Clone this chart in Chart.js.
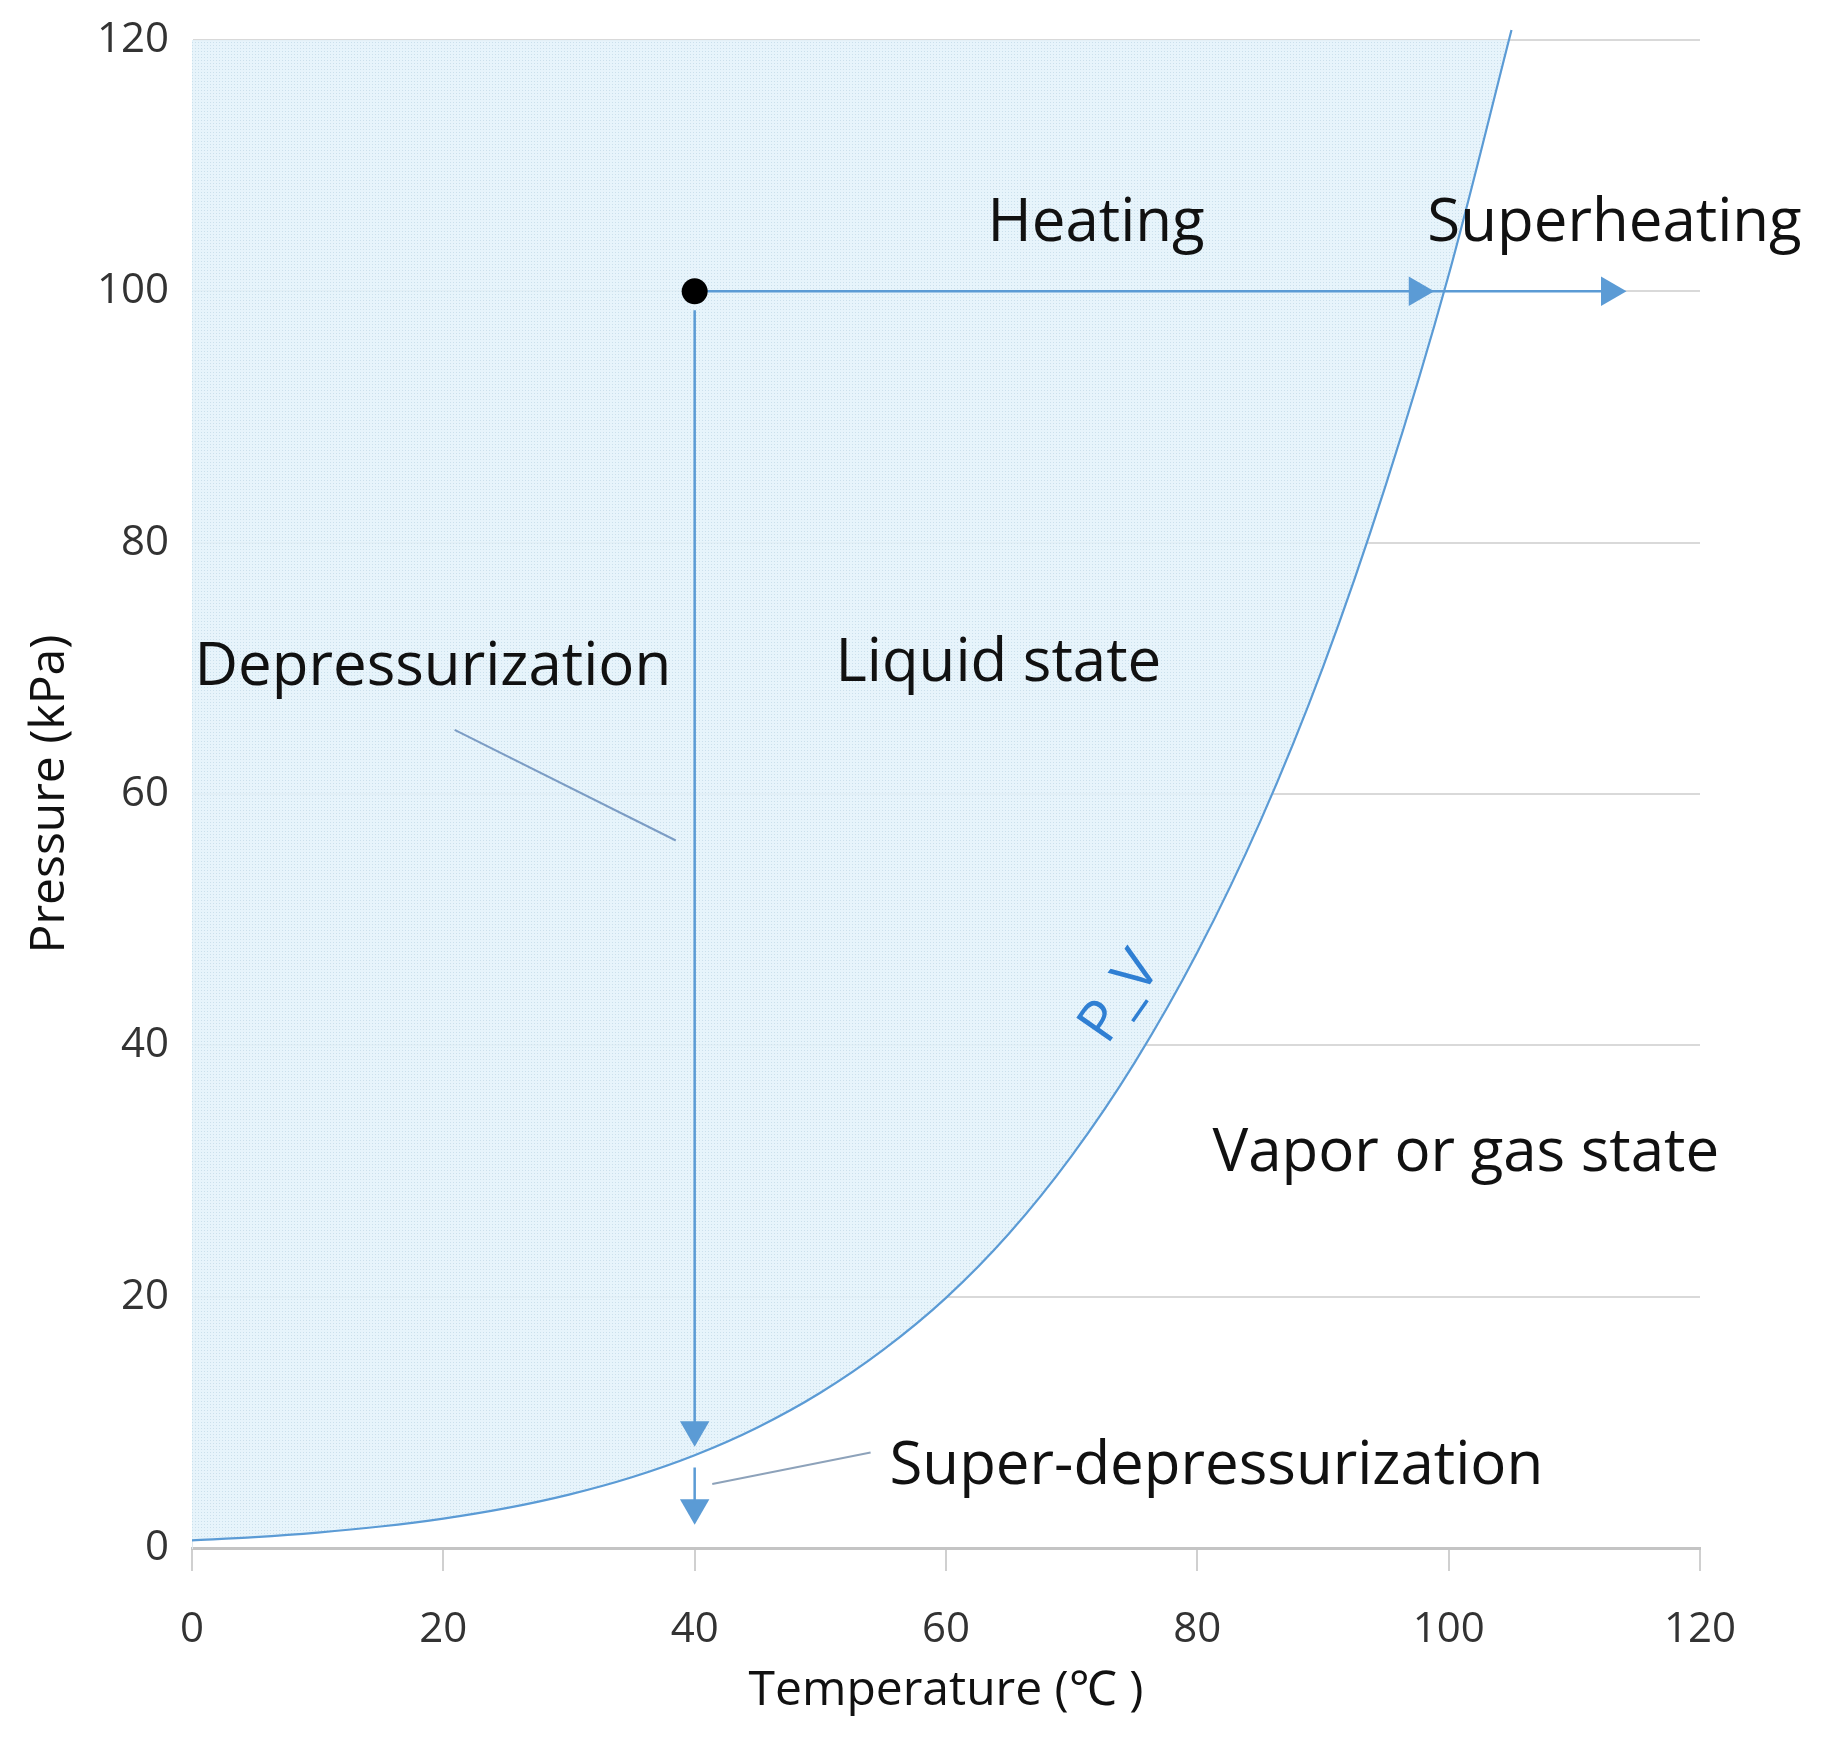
<!DOCTYPE html>
<html>
<head>
<meta charset="utf-8">
<script src="https://cdn.jsdelivr.net/npm/chart.js@4.4.1/dist/chart.umd.min.js"></script>
<style>
  html, body { margin: 0; padding: 0; background: #fff; }
  #wrap { width: 1825px; height: 1741px; }
</style>
</head>
<body>
<div id="wrap"><canvas id="pv-chart"></canvas></div>
<script>
// saturation curve P_V(T)
const tempC = [0, 5, 10, 15, 20, 25, 30, 35, 40, 45, 50, 55, 60, 65, 70, 75, 80, 85, 90, 95, 100, 105];
const pressKPa = [0.61, 0.87, 1.23, 1.71, 2.34, 3.17, 4.25, 5.63, 7.38, 9.59, 12.35, 15.76, 19.9, 25.0, 31.2, 38.6, 47.4, 57.8, 70.1, 84.6, 101.3, 120.8];

const xTickValues = [0, 20, 40, 60, 80, 100, 120];
const yTickValues = [0, 20, 40, 60, 80, 100, 120];

// starting state and process paths (°C, kPa)
const startState = [[40, 100]];
const heatPath = [[40, 100], [112.5, 100]];
const heatHeads = [[97.5, 100], [112.8, 100]];
const depressPath = [[40, 98.5], [40, 9.6]];
const superDepressPath = [[40, 6.4], [40, 3.2]];
const downHeads = [[40, 9.4], [40, 3.2]];
const depressLeader = [[20.9, 65.1], [38.5, 56.3]];
const superLeader = [[54.0, 7.6], [41.4, 5.1]];

// region labels (left edge, baseline)
const labelText = ["Heating", "Superheating", "Depressurization", "Liquid state", "Vapor or gas state", "Super-depressurization"];
const labelX = [63.3, 98.3, 0.2, 51.2, 81.2, 55.5];
const labelY = [104.0, 104.0, 68.7, 69.0, 30.0, 5.1];
const curveTag = { text: "P_V", x: 73.9, y: 43.8 };

const BLUE = "#5b9bd5";
const pts = (arr) => arr.map(([x, y]) => ({ x, y }));

const canvas = document.getElementById("pv-chart");
const ctx = canvas.getContext("2d");

function dotPattern() {
  const c = document.createElement("canvas");
  c.width = 3;
  c.height = 3;
  const g = c.getContext("2d");
  g.fillStyle = "rgba(228,242,250,0.88)";
  g.fillRect(0, 0, 3, 3);
  g.fillStyle = "rgba(200,222,234,0.9)";
  g.fillRect(0, 0, 1, 1);
  return ctx.createPattern(c, "repeat");
}

const labelPlugin = {
  id: "regionLabels",
  afterDatasetsDraw(chart) {
    const { ctx, scales: { x, y } } = chart;
    ctx.save();
    ctx.font = '60px "Open Sans"';
    ctx.fillStyle = "#111";
    ctx.textAlign = "left";
    ctx.textBaseline = "alphabetic";
    labelText.forEach((t, i) => {
      ctx.fillText(t, x.getPixelForValue(labelX[i]), y.getPixelForValue(labelY[i]));
    });
    ctx.translate(x.getPixelForValue(curveTag.x), y.getPixelForValue(curveTag.y));
    ctx.rotate((-55 * Math.PI) / 180);
    ctx.font = '58px "Open Sans"';
    ctx.fillStyle = "#2f7fd3";
    ctx.textAlign = "center";
    ctx.textBaseline = "middle";
    ctx.fillText(curveTag.text, 0, 0);
    ctx.restore();
  },
};

const lineSet = (data, color, width) => ({
  data: pts(data),
  showLine: true,
  borderColor: color,
  borderWidth: width,
  pointRadius: 0,
  fill: false,
});

const headSet = (data, rotation) => ({
  data: pts(data),
  showLine: false,
  pointStyle: "triangle",
  pointRotation: rotation,
  pointRadius: 17,
  pointBorderWidth: 0,
  pointBackgroundColor: BLUE,
  borderColor: BLUE,
});

new Chart(ctx, {
  type: "scatter",
  data: {
    datasets: [
      {
        data: pts(startState),
        pointRadius: 13,
        pointBackgroundColor: "#000",
        pointBorderWidth: 0,
      },
      headSet(heatHeads, 90),
      headSet(downHeads, 180),
      lineSet(heatPath, BLUE, 2.5),
      lineSet(depressPath, BLUE, 2.5),
      lineSet(superDepressPath, BLUE, 2.5),
      lineSet(depressLeader, "#7b9cc4", 2),
      lineSet(superLeader, "#8da2ba", 2),
      {
        data: tempC.map((t, i) => ({ x: t, y: pressKPa[i] })),
        showLine: true,
        borderColor: BLUE,
        borderWidth: 2.2,
        pointRadius: 0,
        cubicInterpolationMode: "monotone",
        fill: "end",
        backgroundColor: dotPattern(),
        clip: { left: 0, top: 20, right: 0, bottom: 0 },
      },
    ],
  },
  options: {
    responsive: true,
    maintainAspectRatio: false,
    devicePixelRatio: 1,
    animation: false,
    events: [],
    layout: { padding: { top: 40, right: 125, left: 0, bottom: 0 } },
    plugins: {
      legend: { display: false },
      tooltip: { enabled: false },
    },
    scales: {
      x: {
        type: "linear",
        min: 0,
        max: 120,
        afterBuildTicks: (s) => { s.ticks = xTickValues.map((v) => ({ value: v })); },
        afterFit: (s) => { s.height = 193; },
        grid: {
          drawOnChartArea: false,
          drawTicks: true,
          tickLength: 23,
          color: "#d0d0d0",
          lineWidth: 2,
        },
        border: { display: true, color: "#c4c4c4", width: 3 },
        ticks: {
          padding: 34,
          color: "#333",
          font: { family: "Open Sans", size: 42 },
        },
        title: {
          display: true,
          text: "Temperature (℃ )",
          color: "#111",
          font: { family: "Open Sans", size: 48 },
          padding: { top: 0, bottom: 21 },
        },
      },
      y: {
        type: "linear",
        min: 0,
        max: 120,
        afterBuildTicks: (s) => { s.ticks = yTickValues.map((v) => ({ value: v })); },
        afterFit: (s) => {
          s.width = 192;
          s.paddingTop = 0;
          s.paddingBottom = 0;
        },
        grid: {
          drawTicks: false,
          color: "#d9d9d9",
          lineWidth: 2,
        },
        border: { display: true, color: "#dfe8ee", width: 1 },
        ticks: {
          padding: 23,
          color: "#333",
          font: { family: "Open Sans", size: 42 },
        },
        title: {
          display: true,
          text: "Pressure (kPa)",
          color: "#111",
          font: { family: "Open Sans", size: 48 },
          padding: { top: 22, bottom: 0 },
        },
      },
    },
  },
  plugins: [labelPlugin],
});
</script>
</body>
</html>
